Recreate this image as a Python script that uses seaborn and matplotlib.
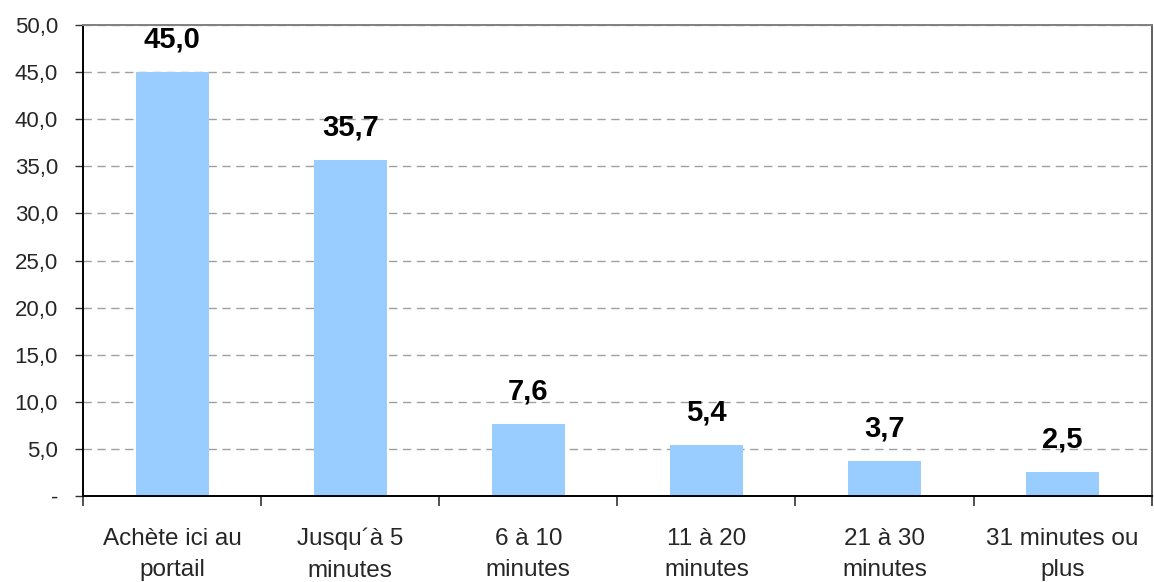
import matplotlib
matplotlib.use("Agg")
import matplotlib.pyplot as plt
import seaborn as sns
import pandas as pd

categories = ["Achète ici au\nportail", "Jusqu´à 5\nminutes", "6 à 10\nminutes",
              "11 à 20\nminutes", "21 à 30\nminutes", "31 minutes ou\nplus"]
values = [45.0, 35.7, 7.6, 5.4, 3.7, 2.5]
y_ticks = [0, 5, 10, 15, 20, 25, 30, 35, 40, 45, 50]

sns.set_theme(style="white")
plt.rcParams["font.family"] = ["Liberation Sans", "DejaVu Sans"]

df = pd.DataFrame({"cat": categories, "val": values})

fig = plt.figure(figsize=(11.54, 5.82), dpi=100)
ax = fig.add_axes([0.0719, 0.1478, 0.9261, 0.8092])

sns.barplot(data=df, x="cat", y="val", color="#99CCFF", saturation=1,
            width=0.41, ax=ax, edgecolor="none")

ax.set_ylim(0, 50)
ax.set_xlim(-0.5, len(categories) - 0.5)
ax.set_yticks(y_ticks)
ax.set_yticklabels(["-" if t == 0 else f"{t:.1f}".replace(".", ",") for t in y_ticks],
                   fontsize=16)
ax.set_xlabel("")
ax.set_ylabel("")

# category separators as tick marks
ax.set_xticks([i + 0.5 for i in range(-1, len(categories))], minor=True)
ax.set_xticks(range(len(categories)))
ax.set_xticklabels(categories, fontsize=17.5, linespacing=1.55)
ax.tick_params(axis="x", which="major", length=0, pad=23)
ax.tick_params(axis="x", which="minor", length=7, width=1.2, color="#333333", bottom=True)
ax.tick_params(axis="y", length=6, width=1, color="#333333", left=True, pad=12)

ax.yaxis.grid(True, linestyle=(0, (6, 4)), color="#A0A0A0", linewidth=1)
ax.set_axisbelow(True)

for side in ["left", "bottom"]:
    ax.spines[side].set_color("#000000")
    ax.spines[side].set_linewidth(1.4)
ax.spines["top"].set_color("#808080")
ax.spines["top"].set_linewidth(1.4)
ax.spines["right"].set_color("#606060")
ax.spines["right"].set_linewidth(1.4)

for i, v in enumerate(values):
    ax.text(i, v + 2.6, f"{v:.1f}".replace(".", ","), ha="center", va="baseline",
            fontsize=21, fontweight="bold", color="black")

fig.savefig("out.png", dpi=100)
